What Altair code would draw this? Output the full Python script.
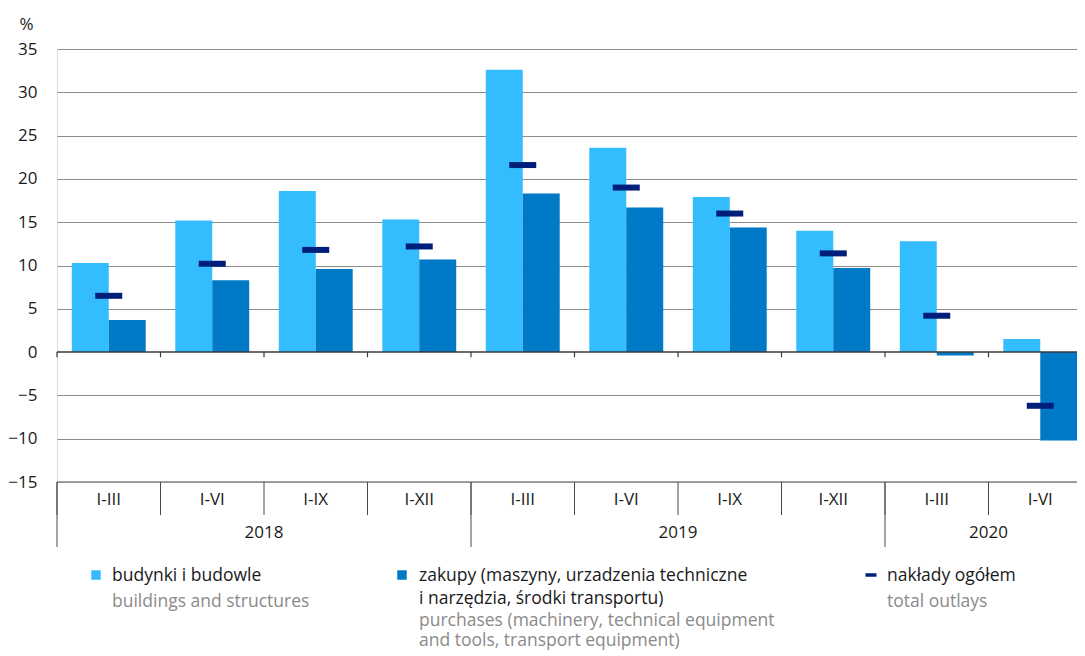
import altair as alt
import pandas as pd

# ---------------- data ----------------
quarters = ["I-III", "I-VI", "I-IX", "I-XII", "I-III", "I-VI", "I-IX", "I-XII", "I-III", "I-VI"]
years = ["2018", "2018", "2018", "2018", "2019", "2019", "2019", "2019", "2020", "2020"]
buildings = [10.3, 15.2, 18.6, 15.3, 32.6, 23.6, 17.9, 14.0, 12.8, 1.5]
purchases = [3.7, 8.3, 9.6, 10.7, 18.3, 16.7, 14.4, 9.7, -0.4, -10.2]
total = [6.5, 10.2, 11.8, 12.2, 21.6, 19.0, 16.0, 11.4, 4.2, -6.2]

year_labels = ["2018", "2019", "2020"]
series_order = ["budynki", "zakupy"]
y_ticks = [-15, -10, -5, 0, 5, 10, 15, 20, 25, 30, 35]

legend_pl = [["budynki i budowle"],
             ["zakupy (maszyny, urzadzenia techniczne", "i narzędzia, środki transportu)"],
             ["nakłady ogółem"]]
legend_en = [["buildings and structures"],
             ["purchases (machinery, technical equipment", "and tools, transport equipment)"],
             ["total outlays"]]

# ---------------- style ----------------
FONT = "Open Sans"
FS = 17
LFS = 17.5
C_LIGHT = "#33bdff"
C_DARK = "#0079c6"
C_NAVY = "#001f7a"
C_TEXT = "#1a1a1a"
C_GREY = "#8a8a8a"
C_LINE = "#4a4a4a"
W, H = 1020, 433
RANGE_W = 1035

keys = [f"{y} {q}" for y, q in zip(years, quarters)]

rows = []
for k, b, p in zip(keys, buildings, purchases):
    rows.append({"key": k, "series": "budynki", "value": b})
    rows.append({"key": k, "series": "zakupy", "value": p})
df_bars = pd.DataFrame(rows)
df_tot = pd.DataFrame({"key": keys, "total": total})
df_q = pd.DataFrame({"key": keys, "quarter": quarters})

first_keys = []
mid_keys = []
for yl in year_labels:
    ks = [k for k, y in zip(keys, years) if y == yl]
    first_keys.append(ks[0])
    mid_keys.append(ks[len(ks) // 2])
df_ydiv = pd.DataFrame({"key": first_keys})
df_ylab = pd.DataFrame({"key": mid_keys, "year": year_labels})

x_scale = alt.Scale(range=[0, RANGE_W], paddingInner=0, paddingOuter=0)


def xk(band=0.5):
    return alt.X("key:N", sort=keys, scale=x_scale, axis=None, bandPosition=band)


bars = alt.Chart(df_bars).mark_bar().encode(
    x=alt.X("key:N", sort=keys, scale=x_scale, axis=None),
    xOffset=alt.XOffset("series:N", sort=series_order,
                        scale=alt.Scale(paddingOuter=0.4, paddingInner=0)),
    y=alt.Y("value:Q",
            scale=alt.Scale(domain=[-15, 35], nice=False, zero=False),
            axis=alt.Axis(values=y_ticks, title="%", titleAngle=0, titleX=-31, titleY=-25,
                          titleAlign="center", titleBaseline="middle",
                          titleFont=FONT, titleFontSize=FS, titleFontWeight="normal",
                          titleColor=C_TEXT,
                          labelFont=FONT, labelFontSize=FS, labelColor=C_TEXT,
                          labelPadding=20, domain=False, ticks=False,
                          grid=True, gridColor="#8c8c8c", gridWidth=1.2,
                          gridOpacity={"condition": {"test": "datum.value == 0 || datum.value == -15",
                                                     "value": 0}, "value": 1})),
    color=alt.Color("series:N", scale=alt.Scale(domain=series_order, range=[C_LIGHT, C_DARK]),
                    legend=None),
)

ticks = alt.Chart(df_tot).mark_tick(color=C_NAVY, size=27, thickness=6, opacity=1).encode(
    x=xk(0.5),
    y=alt.Y("total:Q"),
)

zero_line = alt.Chart(pd.DataFrame({"v": [0]})).mark_rule(color="#3a3a3a", strokeWidth=1.5).encode(
    y=alt.datum(0)
)
zero_ticks = alt.Chart(df_q).mark_rule(color="#3a3a3a", strokeWidth=1.2).encode(
    x=xk(0), y=alt.datum(0), y2=alt.datum(-0.6)
)
bottom_border = alt.Chart(pd.DataFrame({"v": [0]})).mark_rule(color=C_LINE, strokeWidth=1).encode(
    y=alt.datum(-15)
)
q_div = alt.Chart(df_q).mark_rule(color=C_LINE, strokeWidth=1).encode(
    x=xk(0), y=alt.value(H), y2=alt.value(H + 33)
)
y_div = alt.Chart(df_ydiv).mark_rule(color=C_LINE, strokeWidth=1).encode(
    x=xk(0), y=alt.value(H), y2=alt.value(H + 65)
)
q_lab = alt.Chart(df_q).mark_text(font=FONT, fontSize=FS, color=C_TEXT, baseline="middle").encode(
    x=xk(0.5), y=alt.value(H + 18), text="quarter:N"
)
y_lab = alt.Chart(df_ylab).mark_text(font=FONT, fontSize=FS, color=C_TEXT, baseline="middle").encode(
    x=xk(0), y=alt.value(H + 51), text="year:N"
)

# ---------------- legend ----------------
dummy = pd.DataFrame({"v": [0]})
leg_layers = []
sym_x = [39, 345, 814]
txt_x = [55, 362, 830]
LINE1 = 532
PL_LH = 23
EN_GAP = [26, 22, 26]
EN_LH = 20
for i in range(3):
    if i < 2:
        leg_layers.append(alt.Chart(dummy).mark_square(size=90, color=[C_LIGHT, C_DARK][i], opacity=1).encode(
            x=alt.value(sym_x[i]), y=alt.value(526)))
    else:
        leg_layers.append(alt.Chart(dummy).mark_tick(color=C_NAVY, size=11, thickness=3.5,
                                                      orient="horizontal", opacity=1).encode(
            x=alt.value(sym_x[i]), y=alt.value(526)))
    pl = legend_pl[i]
    leg_layers.append(alt.Chart(dummy).mark_text(font=FONT, fontSize=LFS, color=C_TEXT, align="left",
                                                 baseline="alphabetic", lineHeight=PL_LH,
                                                 text=pl if len(pl) > 1 else pl[0]).encode(
        x=alt.value(txt_x[i]), y=alt.value(LINE1)))
    yy = LINE1 + PL_LH * (len(pl) - 1) + EN_GAP[i]
    en = legend_en[i]
    leg_layers.append(alt.Chart(dummy).mark_text(font=FONT, fontSize=LFS, color=C_GREY, align="left",
                                                 baseline="alphabetic", lineHeight=EN_LH,
                                                 text=en if len(en) > 1 else en[0]).encode(
        x=alt.value(txt_x[i]), y=alt.value(yy)))

chart = alt.layer(
    bars, zero_line, zero_ticks, ticks, bottom_border, q_div, y_div, q_lab, y_lab, *leg_layers
).properties(
    width=W, height=H,
    autosize=alt.AutoSizeParams(type="none"),
    padding={"left": 49, "top": 41, "right": 0, "bottom": 174},
).configure_view(stroke=None).configure(background="white")

chart.save("out.html", embed_options={"renderer": "svg", "actions": False})
